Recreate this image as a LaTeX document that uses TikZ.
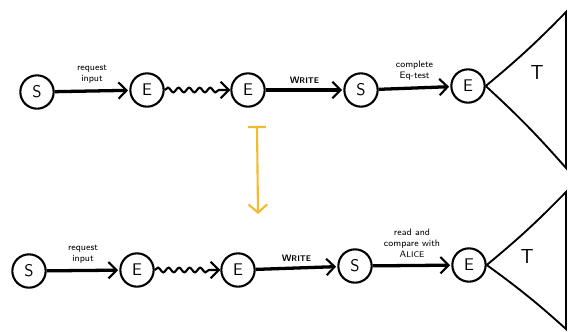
\documentclass[tikz,border=0pt]{standalone}
\usepackage{tikz}
\usetikzlibrary{arrows.meta,decorations.pathmorphing}

\definecolor{marker}{RGB}{246,186,48}
\newcommand{\capsword}[2]{#1{\scriptsize #2}}

\tikzset{
  st/.style={circle, draw, line width=1.8pt, minimum size=1.0cm, inner sep=0pt, font=\Large\sffamily},
  go/.style={line width=2.8pt, -{Straight Barb[length=7pt,width=14pt,line width=1.8pt]}, shorten >=1pt},
  wig/.style={line width=1.8pt, decorate, decoration={snake, amplitude=2pt, segment length=9pt, post length=7pt}},
  lbl/.style={font=\footnotesize\sffamily, align=center, inner sep=1pt}
}

\begin{document}
\begin{tikzpicture}[x=0.03cm, y=-0.03cm]
    \useasboundingbox (0,0) rectangle (571,331);
    % upper run
    \node[st] (s1) at (37,92) {S};
    \node[st] (e1) at (147,90) {E};
    \node[st] (e2) at (248,90) {E};
    \node[st] (s2) at (361,90) {S};
    \node[st] (e3) at (468,86) {E};
    \draw[go] (s1) -- node[lbl, above=4pt] {request\\input} (e1);
    \draw[wig, -{Straight Barb[length=7pt,width=14pt]}] (e1) -- (e2);
    \draw[go] (e2) -- node[lbl, above=3pt] {\bfseries\capsword{W}{RITE}} (s2);
    \draw[go] (s2) -- node[lbl, above=4pt] {complete\\Eq-test} (e3);
    \coordinate (t1) at (566,12);
    \coordinate (b1) at (566,168);
    \draw[line width=1.6pt] (e3.east) to[bend right=3] (t1) -- (b1) to[bend right=3] (e3.east);
    \node[font=\LARGE\sffamily] (T1) at (537,73) {T};
    % orange step
    \coordinate (o1) at (257,126);
    \coordinate (o2) at (258,214);
    \draw[line width=1.8pt, color=marker, {Bar[width=15pt]}-{Straight Barb[length=7pt,width=16pt]}] (o1) -- (o2);
    % lower run
    \node[st] (s3) at (29,271) {S};
    \node[st] (e4) at (137,270) {E};
    \node[st] (e5) at (238,270) {E};
    \node[st] (s4) at (355,266) {S};
    \node[st] (e6) at (469,265) {E};
    \draw[go] (s3) -- node[lbl, above=4pt] {request\\input} (e4);
    \draw[wig, -{Straight Barb[length=7pt,width=14pt]}] (e4) -- (e5);
    \draw[go] (e5) -- node[lbl, above=3pt] {\bfseries\capsword{W}{RITE}} (s4);
    \draw[go] (s4) -- node[lbl, above=4pt] {read and\\compare with\\\capsword{A}{LICE}} (e6);
    \coordinate (t2) at (566,192);
    \coordinate (b2) at (566,329);
    \draw[line width=1.6pt] (e6.east) to[bend right=3] (t2) -- (b2) to[bend right=3] (e6.east);
    \node[font=\LARGE\sffamily] (T2) at (527,256) {T};
\end{tikzpicture}
\end{document}
